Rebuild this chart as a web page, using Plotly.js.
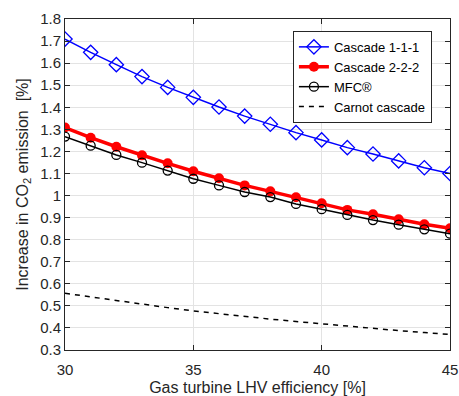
<!DOCTYPE html>
<html>
<head>
<meta charset="utf-8">
<script src="https://cdn.plot.ly/plotly-3.0.1.min.js"></script>
<style>html,body{margin:0;padding:0;background:#fff;}#chart{width:459px;height:396px;}</style>
</head>
<body>
<div id="chart"></div>
<script>
const efficiency = [30,31,32,33,34,35,36,37,38,39,40,41,42,43,44,45];
const cascade111 = [1.709,1.649,1.593,1.539,1.490,1.445,1.401,1.360,1.323,1.285,1.252,1.217,1.188,1.157,1.126,1.100];
const cascade222 = [1.308,1.262,1.221,1.182,1.146,1.110,1.078,1.046,1.019,0.992,0.965,0.935,0.915,0.892,0.870,0.852];
const mfc = [1.267,1.226,1.184,1.149,1.113,1.076,1.046,1.016,0.993,0.962,0.938,0.912,0.889,0.868,0.847,0.827];
const carnot = [0.557,0.540,0.523,0.507,0.492,0.477,0.464,0.451,0.440,0.429,0.418,0.408,0.398,0.388,0.379,0.370];
const seriesNames = ['Cascade 1-1-1','Cascade 2-2-2','MFC®','Carnot cascade'];
const xTicks = [30,35,40,45];
const yTicks = [0.3,0.4,0.5,0.6,0.7,0.8,0.9,1,1.1,1.2,1.3,1.4,1.5,1.6,1.7,1.8];

const dark = '#262626';
const traces = [
  {x: efficiency, y: cascade111, name: seriesNames[0], mode: 'lines+markers',
   line: {color: '#0000ff', width: 1.5},
   marker: {symbol: 'diamond-open', size: 11, color: '#0000ff', line: {width: 1.3}}},
  {x: efficiency, y: cascade222, name: seriesNames[1], mode: 'lines+markers',
   line: {color: '#ff0000', width: 3.5},
   marker: {symbol: 'circle', size: 10, color: '#ff0000'}},
  {x: efficiency, y: mfc, name: seriesNames[2], mode: 'lines+markers',
   line: {color: '#000000', width: 1.5},
   marker: {symbol: 'circle-open', size: 9, color: '#000000', line: {width: 1.3}}},
  {x: efficiency, y: carnot, name: seriesNames[3], mode: 'lines',
   line: {color: '#000000', width: 1.5, dash: '5px,5px'}}
];

const layout = {
  width: 459, height: 396,
  margin: {l: 65, r: 9, t: 19, b: 46},
  paper_bgcolor: '#fff', plot_bgcolor: '#fff',
  font: {family: '"Liberation Sans", Arial, sans-serif', color: dark, size: 15},
  showlegend: true,
  legend: {x: 0.592, y: 0.964, xanchor: 'left', yanchor: 'top',
    bgcolor: '#fff', bordercolor: dark, borderwidth: 1,
    font: {size: 13, color: '#000'}, tracegroupgap: 0},
  xaxis: {range: [30, 45], tickvals: xTicks, ticktext: xTicks.map(String),
    ticks: 'inside', ticklen: 5, tickcolor: dark, showline: true, linecolor: dark, linewidth: 1,
    mirror: 'ticks', showgrid: true, gridcolor: '#e3e3e3', zeroline: false,
    ticklabelstandoff: 6,
    title: {text: 'Gas turbine LHV efficiency [%]', font: {size: 16}, standoff: 7}},
  yaxis: {range: [0.3, 1.8], tickvals: yTicks, ticktext: yTicks.map(v => String(v)),
    ticks: 'inside', ticklen: 5, tickcolor: dark, showline: true, linecolor: dark, linewidth: 1,
    mirror: 'ticks', showgrid: true, gridcolor: '#e3e3e3', zeroline: false,
    title: {text: 'Increase in CO<sub>2</sub> emission&nbsp; [%]', font: {size: 16}, standoff: 7}}
};

Plotly.newPlot('chart', traces, layout, {displayModeBar: false, staticPlot: true});
</script>
</body>
</html>
